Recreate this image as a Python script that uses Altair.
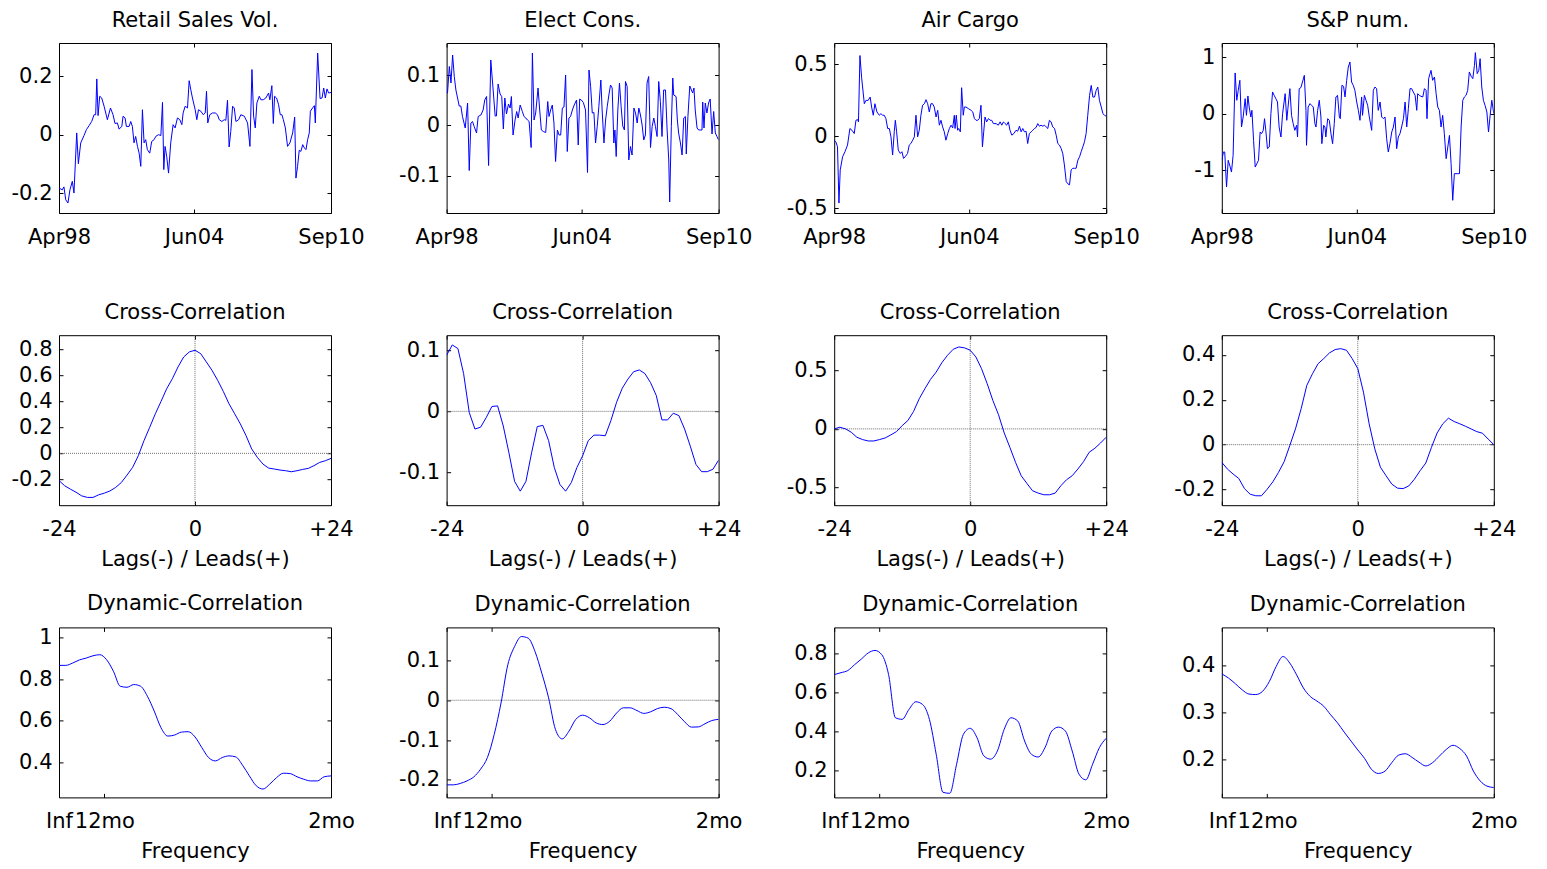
import altair as alt
import pandas as pd

FONT = "DejaVu Sans"
FS = 21
BLUE = "#0000ff"
W, H = 272, 170

# ---------------- Row 1 : time series (month index 0 = Apr98 ... 149 = Sep10)
RETAIL_T = [0, 1.8, 2.7, 3.7, 4.9, 6.0, 7.3, 8.2, 9.7, 10.6, 11.9, 13.7, 15.0, 16.5, 17.9, 19.2, 20.1, 20.7, 21.4, 22.3,
            23.4, 24.7, 26.5, 28.2, 29.6, 30.7, 32.0, 32.9, 34.4, 35.1, 36.2, 36.9, 38.4, 39.3, 40.2, 41.1, 42.0, 43.0, 43.9, 44.8,
            45.7, 46.6, 47.5, 48.4, 49.7, 50.8, 52.1, 53.0, 54.5, 55.8, 56.7, 57.4, 58.1, 59.0, 60.0, 61.2, 62.5, 63.6, 64.9, 66.2,
            67.3, 68.0, 69.1, 70.4, 71.3, 72.2, 73.1, 74.6, 75.5, 76.4, 77.7, 79.0, 80.1, 80.8, 81.5, 82.6, 84.1, 85.6, 86.8, 87.8,
            89.2, 90.5, 91.4, 92.3, 93.2, 94.1, 95.1, 96.0, 96.9, 98.4, 99.6, 101.5, 103.3, 104.6, 105.7, 106.6, 107.5, 108.4, 109.7, 110.6,
            111.9, 113.3, 114.8, 115.5, 116.6, 117.4, 118.1, 119.2, 120.3, 121.2, 122.1, 122.9, 124.0, 125.2, 126.5, 128.0, 129.1, 129.8, 130.7, 131.6,
            132.5, 133.5, 134.4, 135.3, 136.2, 137.1, 137.7, 138.9, 139.9, 140.4, 141.7, 143.0, 144.1, 145.0, 145.9, 146.8, 147.7, 149.0]
RETAIL_V = [-0.182, -0.188, -0.178, -0.222, -0.233, -0.188, -0.159, -0.199, 0.006, -0.099, -0.028, -0.003, 0.017, 0.031, 0.045, 0.068, 0.068, 0.19, 0.065, 0.131,
            0.125, 0.097, 0.051, 0.091, 0.068, 0.038, 0.04, 0.019, 0.028, 0.063, 0.057, 0.028, 0.028, 0.045, 0.028, -0.028, -0.006, -0.04, -0.063, -0.108,
            0.085, -0.028, -0.017, -0.051, -0.063, -0.023, -0.017, -0.006, 0.0, -0.003, 0.11, -0.119, -0.04, -0.074, -0.131, -0.028, 0.034, 0.023, 0.057, 0.051,
            0.034, 0.074, 0.097, 0.091, 0.184, 0.153, 0.125, 0.085, 0.051, 0.085, 0.08, 0.068, 0.074, 0.148, 0.04, 0.068, 0.074, 0.074, 0.068, 0.051,
            0.045, 0.051, 0.049, 0.117, -0.042, 0.011, 0.097, 0.091, 0.045, 0.051, 0.068, 0.063, 0.04, -0.04, 0.222, 0.063, 0.023, 0.108, 0.131, 0.119,
            0.119, 0.125, 0.142, 0.119, 0.167, 0.038, 0.131, 0.125, 0.102, 0.068, 0.068, 0.051, 0.023, -0.04, -0.028, 0.006, 0.06, -0.148, -0.108, -0.053,
            -0.057, -0.034, -0.045, -0.051, -0.017, 0.006, 0.08, 0.091, 0.099, 0.04, 0.278, 0.123, 0.125, 0.159, 0.125, 0.156, 0.142, 0.144]

ELECT_T = [0, 0.5, 1.5, 2.4, 3.3, 4.2, 5.1, 6.0, 6.9, 7.8, 8.7, 10.2, 11.5, 12.4, 13.3, 14.2, 15.1, 16.4, 17.3, 18.8,
           20.0, 20.9, 21.9, 23.0, 24.2, 25.5, 26.6, 27.3, 28.2, 29.3, 30.2, 31.1, 31.9, 32.8, 33.9, 34.8, 35.5, 36.4, 37.5, 38.4,
           39.2, 40.3, 41.5, 42.4, 43.4, 44.3, 45.2, 46.3, 47.0, 47.9, 48.8, 50.1, 51.0, 51.9, 53.0, 54.3, 55.4, 56.1, 57.0, 57.9,
           58.8, 59.7, 60.7, 61.6, 62.5, 63.4, 64.3, 65.2, 66.1, 67.0, 67.9, 68.9, 69.9, 71.2, 72.1, 72.9, 73.8, 74.9, 76.1, 77.2,
           78.0, 78.9, 79.8, 80.7, 81.6, 82.5, 83.4, 84.5, 85.2, 86.2, 87.1, 88.0, 88.9, 89.8, 90.7, 91.6, 92.2, 92.9, 93.8, 94.7,
           95.6, 96.5, 97.4, 98.0, 98.9, 99.8, 100.7, 101.6, 102.6, 103.5, 104.4, 105.3, 106.2, 107.1, 108.0, 108.9, 109.8, 110.7, 111.7, 112.6,
           113.5, 114.4, 115.3, 116.2, 117.1, 118.0, 118.9, 119.9, 120.8, 121.7, 122.2, 123.1, 123.9, 124.4, 125.7, 126.4, 127.1, 128.1, 129.0, 129.9,
           130.8, 131.3, 132.2, 133.2, 134.1, 134.8, 135.5, 136.2, 137.2, 138.1, 139.0, 139.9, 140.3, 141.0, 141.7, 142.6, 143.5, 144.4, 145.4, 146.3,
           147.2, 148.1, 149.0]
ELECT_V = [0.065, 0.065, 0.118, 0.085, 0.141, 0.098, 0.071, 0.055, 0.039, 0.039, 0.018, -0.005, 0.045, -0.09, 0.005, 0.008, -0.002, -0.015, 0.018, 0.021,
           0.031, 0.051, 0.058, -0.08, 0.131, 0.071, 0.019, 0.019, 0.083, 0.063, 0.058, -0.007, 0.055, 0.023, 0.043, 0.035, 0.058, -0.019, 0.011, 0.028,
           0.015, 0.041, 0.028, 0.018, 0.015, 0.011, 0.008, -0.044, 0.145, 0.011, 0.025, 0.075, 0.031, -0.009, -0.012, -0.014, 0.048, 0.018, 0.031, 0.041,
           0.005, -0.072, -0.009, -0.019, -0.019, 0.035, 0.037, 0.101, -0.052, 0.015, 0.018, 0.031, 0.041, 0.051, -0.039, 0.053, 0.051, 0.046, 0.031, -0.094,
           0.111, 0.078, 0.025, 0.026, -0.035, -0.002, 0.038, 0.091, 0.031, -0.035, 0.011, 0.038, 0.061, 0.081, 0.075, -0.035, -0.009, -0.062, 0.031, 0.085,
           0.038, -0.001, -0.009, 0.088, 0.078, -0.069, -0.042, -0.059, 0.035, 0.025, 0.005, 0.035, 0.021, 0.001, -0.029, -0.019, 0.085, 0.098, -0.044, -0.002,
           0.015, -0.002, -0.022, 0.088, 0.048, -0.022, 0.071, 0.071, -0.009, -0.069, -0.153, -0.002, 0.095, 0.061, 0.058, 0.011, -0.015, -0.035, -0.059, 0.015,
           0.018, -0.057, 0.018, 0.079, 0.071, 0.065, 0.075, 0.031, -0.005, -0.009, -0.009, -0.009, 0.047, -0.005, 0.045, 0.025, 0.045, 0.053, -0.017, 0.028,
           -0.015, -0.022, -0.029]

AIR_T = [0, 0.9, 1.8, 2.6, 3.3, 4.6, 5.9, 7.3, 8.6, 9.7, 11.0, 11.9, 12.8, 13.3, 14.1, 15.0, 16.5, 17.4, 18.6, 19.7,
         20.5, 21.4, 22.3, 23.4, 24.7, 25.6, 26.5, 27.4, 28.3, 29.3, 30.2, 31.1, 32.0, 32.9, 33.5, 34.2, 35.1, 36.2, 37.1, 38.0,
         38.9, 40.2, 41.1, 42.0, 43.0, 43.9, 44.8, 45.7, 46.6, 47.5, 48.4, 49.4, 50.3, 51.2, 52.1, 53.0, 53.9, 54.8, 55.8, 56.7,
         57.6, 58.5, 59.4, 60.3, 61.2, 62.2, 63.1, 64.0, 64.9, 65.8, 66.2, 66.9, 67.6, 68.2, 69.1, 69.8, 70.7, 71.3, 72.2, 73.5,
         75.0, 75.9, 76.8, 77.7, 78.6, 79.5, 80.4, 81.2, 81.9, 82.6, 83.5, 84.5, 85.4, 86.3, 87.2, 88.7, 89.9, 90.9, 91.8, 92.7,
         93.6, 94.5, 95.4, 96.3, 97.3, 98.4, 99.6, 100.5, 101.5, 102.4, 103.3, 104.2, 105.1, 106.0, 106.9, 107.9, 108.8, 109.7, 110.6, 111.5,
         112.4, 113.3, 114.3, 115.2, 116.1, 117.0, 117.9, 118.8, 119.7, 120.7, 121.6, 122.5, 123.4, 124.3, 125.2, 126.1, 127.1, 128.0, 128.9, 129.8,
         130.7, 131.6, 132.5, 133.5, 134.4, 135.3, 136.2, 137.1, 138.0, 138.9, 139.9, 140.8, 141.7, 142.6, 143.5, 144.4, 145.3, 146.3, 147.2, 148.1,
         149.0]
AIR_V = [-0.028, -0.039, -0.074, -0.464, -0.234, -0.143, -0.108, -0.062, 0.053, 0.041, 0.018, 0.11, 0.115, 0.099, 0.559, 0.409, 0.225, 0.248, 0.248, 0.271,
         0.202, 0.145, 0.225, 0.168, 0.145, 0.156, 0.145, 0.145, 0.122, 0.053, 0.053, -0.005, -0.131, 0.03, 0.11, 0.03, -0.097, -0.12, -0.108, -0.154,
         -0.143, -0.12, -0.062, -0.051, -0.028, -0.005, 0.145, -0.005, 0.041, 0.145, 0.214, 0.225, 0.253, 0.225, 0.168, 0.225, 0.225, 0.202, 0.133, 0.179,
         0.076, 0.11, 0.064, 0.03, -0.028, 0.018, 0.053, 0.076, 0.057, 0.145, 0.053, 0.145, 0.041, 0.053, 0.03, 0.336, 0.145, 0.202, 0.202, 0.191,
         0.179, 0.168, 0.122, 0.11, 0.11, 0.122, 0.214, -0.074, 0.03, 0.133, 0.099, 0.122, 0.11, 0.11, 0.087, 0.087, 0.076, 0.099, 0.076, 0.099,
         0.087, 0.076, 0.099, 0.041, 0.007, 0.018, 0.041, 0.034, 0.069, 0.03, 0.053, 0.03, 0.034, -0.051, 0.018, 0.03, 0.041, 0.053, 0.06, 0.087,
         0.069, 0.076, 0.069, 0.076, 0.064, 0.053, 0.11, 0.099, 0.064, 0.053, 0.007, -0.051, -0.062, -0.085, -0.12, -0.2, -0.315, -0.331, -0.338, -0.234,
         -0.223, -0.223, -0.223, -0.166, -0.143, -0.108, -0.074, -0.039, 0.018, 0.145, 0.283, 0.352, 0.271, 0.271, 0.317, 0.34, 0.248, 0.202, 0.156, 0.145,
         0.138]

SP_T = [0, 0.9, 1.6, 2.6, 3.5, 4.6, 5.3, 6.2, 7.3, 8.2, 9.0, 9.9, 10.8, 11.7, 12.8, 13.5, 14.3, 15.0, 15.9, 16.5,
        17.4, 18.3, 19.2, 20.1, 21.0, 21.8, 22.7, 23.4, 24.1, 25.0, 26.0, 26.9, 27.8, 28.7, 29.6, 30.5, 31.4, 32.4, 33.3, 34.7,
        35.6, 36.2, 37.3, 38.2, 39.1, 40.0, 41.0, 41.5, 42.4, 43.3, 44.2, 45.2, 46.1, 46.4, 47.3, 48.3, 49.2, 50.1, 51.0, 51.6,
        52.5, 53.4, 54.3, 54.8, 55.8, 56.5, 57.0, 58.0, 58.9, 59.8, 60.7, 61.6, 62.5, 63.4, 64.4, 64.9, 65.8, 66.7, 67.5, 68.4,
        69.3, 70.2, 71.1, 72.0, 72.9, 73.9, 74.8, 75.7, 76.6, 77.1, 78.1, 79.0, 79.9, 80.8, 82.1, 83.0, 83.9, 84.8, 85.7, 86.7,
        87.6, 88.5, 89.4, 90.3, 91.2, 92.1, 93.1, 94.0, 94.9, 95.8, 96.7, 97.6, 98.5, 99.5, 100.4, 101.3, 102.2, 103.1, 104.0, 104.9,
        105.9, 106.8, 107.3, 108.2, 109.1, 110.1, 111.0, 111.9, 112.4, 113.3, 114.6, 115.5, 116.5, 117.4, 118.3, 119.2, 120.1, 121.0, 121.9, 122.9,
        123.8, 124.7, 125.6, 126.5, 127.4, 128.3, 129.3, 130.2, 131.1, 132.0, 132.9, 133.8, 134.7, 135.6, 136.6, 137.5, 138.4, 138.9, 139.9, 140.8,
        141.5, 142.4, 143.3, 144.2, 145.2, 146.1, 147.0, 147.9, 149.0]
SP_V = [-0.828, -0.68, -0.68, -1.302, -0.828, -0.947, -1.036, -0.74, 0.722, 0.237, 0.414, 0.592, -0.237, -0.059, 0.266, -0.03, 0.314, 0.118, -0.059, 0.059,
        -0.473, -0.947, -0.888, -0.828, -0.325, -0.355, -0.296, -0.089, -0.296, -0.621, -0.592, 0.0, 0.385, 0.325, 0.266, 0.207, -0.237, -0.414, 0.0, 0.355,
        -0.118, 0.089, 0.444, -0.03, -0.178, -0.296, -0.207, -0.414, 0.444, 0.462, 0.562, 0.68, 0.059, -0.562, 0.118, 0.178, 0.148, 0.118, -0.178, -0.237,
        0.059, 0.237, -0.059, -0.533, -0.207, -0.237, -0.414, -0.089, -0.118, -0.355, -0.533, -0.178, 0.296, 0.325, -0.059, -0.089, 0.503, 0.485, 0.296, 0.592,
        0.828, 0.917, 0.562, 0.503, 0.414, 0.207, 0.059, -0.118, 0.296, -0.03, 0.325, 0.237, 0.148, -0.059, -0.296, 0.414, 0.473, 0.444, 0.059, 0.207,
        -0.059, -0.089, -0.059, -0.444, -0.68, -0.533, -0.325, -0.237, -0.059, -0.621, -0.414, -0.355, -0.237, -0.089, 0.207, -0.237, 0.089, 0.444, 0.444, 0.385,
        0.325, 0.059, 0.355, 0.325, 0.308, 0.296, 0.444, 0.414, -0.089, 0.621, 0.769, 0.592, 0.651, 0.355, 0.118, 0.059, -0.237, -0.03, -0.355, -0.799,
        -0.592, -0.385, -0.888, -1.538, -1.065, -1.065, -1.065, -1.065, -0.237, 0.237, 0.296, 0.325, 0.414, 0.74, 0.663, 0.621, 0.858, 1.083, 0.71, 0.769,
        0.976, 0.473, 0.237, 0.148, 0.03, -0.325, -0.03, 0.237, 0.0]

# ---------------- Row 2 : cross-correlations at lags -24..+24
LAGS = list(range(-24, 25))
XC_RETAIL = [-0.21, -0.25, -0.276, -0.30, -0.328, -0.34, -0.34, -0.32, -0.307, -0.29,
             -0.263, -0.225, -0.168, -0.108, -0.018, 0.098, 0.2, 0.305, 0.4, 0.498,
             0.575, 0.666, 0.743, 0.782, 0.795, 0.769, 0.705, 0.64, 0.563, 0.477,
             0.382, 0.305, 0.227, 0.137, 0.034, -0.031, -0.083, -0.114, -0.121, -0.129,
             -0.134, -0.142, -0.134, -0.124, -0.116, -0.095, -0.07, -0.057, -0.039]
XC_ELECT = [0.092, 0.109, 0.103, 0.062, -0.002, -0.029, -0.026, -0.01, 0.008, 0.009,
            -0.024, -0.068, -0.115, -0.131, -0.115, -0.068, -0.025, -0.023, -0.048, -0.092,
            -0.12, -0.131, -0.117, -0.092, -0.073, -0.048, -0.039, -0.039, -0.04, -0.015,
            0.015, 0.038, 0.053, 0.065, 0.068, 0.062, 0.047, 0.026, -0.014, -0.014,
            -0.003, -0.007, -0.029, -0.057, -0.087, -0.099, -0.099, -0.095, -0.08]
XC_AIR = [0.0, 0.014, 0.0, -0.028, -0.071, -0.091, -0.103, -0.103, -0.091, -0.077,
          -0.051, -0.023, 0.028, 0.071, 0.148, 0.256, 0.342, 0.422, 0.484, 0.564,
          0.627, 0.678, 0.698, 0.69, 0.67, 0.613, 0.513, 0.385, 0.242, 0.12,
          -0.034, -0.157, -0.285, -0.399, -0.464, -0.527, -0.547, -0.561, -0.561, -0.547,
          -0.484, -0.433, -0.399, -0.342, -0.279, -0.199, -0.165, -0.12, -0.071]
XC_SP = [-0.079, -0.109, -0.131, -0.151, -0.196, -0.221, -0.228, -0.228, -0.199, -0.166,
         -0.124, -0.076, -0.004, 0.07, 0.16, 0.264, 0.316, 0.361, 0.384, 0.409,
         0.424, 0.428, 0.421, 0.384, 0.339, 0.234, 0.093, -0.019, -0.101, -0.139,
         -0.176, -0.194, -0.196, -0.184, -0.154, -0.116, -0.082, -0.012, 0.052, 0.093,
         0.118, 0.103, 0.093, 0.082, 0.07, 0.058, 0.051, 0.025, 0.0]

# ---------------- Row 3 : dynamic correlations, frequency in units of pi (0 = Inf, 1/6 = 12mo, 1 = 2mo)
FREQ = [i / 40 for i in range(41)]
DC_RETAIL = [0.866, 0.866, 0.877, 0.892, 0.901, 0.912, 0.917, 0.893, 0.838, 0.766,
             0.761, 0.774, 0.766, 0.718, 0.647, 0.567, 0.527, 0.532, 0.546, 0.548,
             0.523, 0.472, 0.424, 0.408, 0.424, 0.432, 0.427, 0.387, 0.336, 0.289,
             0.273, 0.297, 0.328, 0.349, 0.347, 0.332, 0.32, 0.312, 0.312, 0.332, 0.336]
DC_ELECT = [-0.2125, -0.2125, -0.209, -0.2025, -0.1925, -0.173, -0.144, -0.086, -0.007, 0.089,
            0.135, 0.16, 0.156, 0.1225, 0.068, 0.006, -0.073, -0.097, -0.0775, -0.048,
            -0.0375, -0.044, -0.057, -0.061, -0.0525, -0.032, -0.019, -0.019, -0.026, -0.033,
            -0.029, -0.021, -0.0175, -0.021, -0.036, -0.054, -0.0675, -0.067, -0.059, -0.051, -0.048]
DC_AIR = [0.693, 0.703, 0.714, 0.744, 0.773, 0.804, 0.817, 0.795, 0.693, 0.472,
          0.464, 0.515, 0.554, 0.54, 0.464, 0.285, 0.09, 0.085, 0.234, 0.387,
          0.418, 0.37, 0.277, 0.26, 0.302, 0.413, 0.472, 0.455, 0.353, 0.285,
          0.271, 0.319, 0.404, 0.424, 0.404, 0.302, 0.183, 0.154, 0.234, 0.319, 0.367]
DC_SP = [0.382, 0.373, 0.361, 0.348, 0.339, 0.338, 0.345, 0.366, 0.398, 0.419,
         0.405, 0.38, 0.352, 0.334, 0.324, 0.313, 0.295, 0.278, 0.258, 0.239,
         0.22, 0.202, 0.179, 0.17, 0.175, 0.193, 0.209, 0.212, 0.204, 0.194,
         0.186, 0.193, 0.207, 0.221, 0.23, 0.223, 0.207, 0.175, 0.154, 0.143, 0.14]

TITLES_TOP = ["Retail Sales Vol.", "Elect Cons.", "Air Cargo", "S&P num."]
TIME_TICKS = [0, 74, 149]
LAG_TICKS = [-24, 0, 24]
FREQ_TICKS = [0, 1 / 6, 1]

TIME_EXPR = "datum.value == 0 ? 'Apr98' : (datum.value == 74 ? 'Jun04' : 'Sep10')"
LAG_EXPR = "datum.value > 0 ? '+' + datum.value : (datum.value < 0 ? '-' + (-datum.value) : '0')"
FREQ_EXPR = "datum.value == 0 ? 'Inf' : (datum.value < 0.5 ? '12mo' : '2mo')"
Y_EXPR = "replace(datum.label, '\u2212', '-')"

ZERO = pd.DataFrame({"v": [0]})


def frame(xs, ys):
    return pd.DataFrame(list(zip(xs, ys)), columns=["x", "y"])


def panel(df, title, xdom, ydom, xvals, yvals, xexpr, xtitle=None,
          hzero=False, vzero=False, interp="linear"):
    xs = alt.Scale(domain=xdom, nice=False, zero=False)
    ys = alt.Scale(domain=ydom, nice=False, zero=False)
    xkw = dict(orient="bottom", values=xvals, labelExpr=xexpr, labelFlush=False,
               labelOverlap=False, labelBaseline="alphabetic", labelPadding=30,
               offset=-4, tickSize=4, domain=False, grid=False,
               minExtent=34, maxExtent=34)
    if xtitle:
        xkw.update(title=xtitle, titleBaseline="alphabetic", titlePadding=30)
    else:
        xkw.update(title=None)
    ykw = dict(orient="left", values=yvals, format="~g", labelExpr=Y_EXPR,
               labelPadding=7, offset=-4, tickSize=4, domain=False, grid=False,
               title=None, labelOverlap=False, labelFlush=False)
    layers = []
    rule_style = dict(color="#6e6e6e", strokeDash=[1, 1], strokeWidth=1)
    if hzero:
        layers.append(alt.Chart(ZERO).mark_rule(**rule_style).encode(
            y=alt.Y("v:Q", scale=ys, axis=None)))
    if vzero:
        layers.append(alt.Chart(ZERO).mark_rule(**rule_style).encode(
            x=alt.X("v:Q", scale=xs, axis=None)))
    line = alt.Chart(df).mark_line(color=BLUE, strokeWidth=1, clip=True,
                                   interpolate=interp).encode(
        x=alt.X("x:Q", scale=xs, axis=alt.Axis(**xkw)),
        y=alt.Y("y:Q", scale=ys, axis=alt.Axis(**ykw)),
    )
    mirror = alt.Chart(df).mark_line(opacity=0).encode(
        x=alt.X("x:Q", scale=xs, axis=alt.Axis(orient="top", values=xvals, labels=False,
                                              domain=False, grid=False, tickSize=4,
                                              offset=-4, title=None)),
        y=alt.Y("y:Q", scale=ys, axis=alt.Axis(orient="right", values=yvals, labels=False,
                                              domain=False, grid=False, tickSize=4,
                                              offset=-4, title=None)),
    )
    layers += [line, mirror]
    return alt.layer(*layers).resolve_axis(x="independent", y="independent").properties(
        width=W, height=H, title=alt.Title(title))


row1 = [
    panel(frame(RETAIL_T, RETAIL_V), TITLES_TOP[0], [0, 149], [-0.267, 0.3125], TIME_TICKS, [-0.2, 0, 0.2], TIME_EXPR),
    panel(frame(ELECT_T, ELECT_V), TITLES_TOP[1], [0, 149], [-0.175, 0.165], TIME_TICKS, [-0.1, 0, 0.1], TIME_EXPR),
    panel(frame(AIR_T, AIR_V), TITLES_TOP[2], [0, 149], [-0.533, 0.646], TIME_TICKS, [-0.5, 0, 0.5], TIME_EXPR),
    panel(frame(SP_T, SP_V), TITLES_TOP[3], [0, 149], [-1.763, 1.254], TIME_TICKS, [-1, 0, 1], TIME_EXPR),
]
LAGT = "Lags(-) / Leads(+)"
row2 = [
    panel(frame(LAGS, XC_RETAIL), "Cross-Correlation", [-24, 24], [-0.40, 0.911], LAG_TICKS,
          [-0.2, 0, 0.2, 0.4, 0.6, 0.8], LAG_EXPR, LAGT, True, True),
    panel(frame(LAGS, XC_ELECT), "Cross-Correlation", [-24, 24], [-0.154, 0.125], LAG_TICKS,
          [-0.1, 0, 0.1], LAG_EXPR, LAGT, True, True),
    panel(frame(LAGS, XC_AIR), "Cross-Correlation", [-24, 24], [-0.65, 0.798], LAG_TICKS,
          [-0.5, 0, 0.5], LAG_EXPR, LAGT, True, True),
    panel(frame(LAGS, XC_SP), "Cross-Correlation", [-24, 24], [-0.27, 0.488], LAG_TICKS,
          [-0.2, 0, 0.2, 0.4], LAG_EXPR, LAGT, True, True),
]
row3 = [
    panel(frame(FREQ, DC_RETAIL), "Dynamic-Correlation", [0, 1], [0.233, 1.048], FREQ_TICKS,
          [0.4, 0.6, 0.8, 1], FREQ_EXPR, "Frequency", interp="monotone"),
    panel(frame(FREQ, DC_ELECT), "Dynamic-Correlation", [0, 1], [-0.244, 0.183], FREQ_TICKS,
          [-0.2, -0.1, 0, 0.1], FREQ_EXPR, "Frequency", hzero=True, interp="monotone"),
    panel(frame(FREQ, DC_AIR), "Dynamic-Correlation", [0, 1], [0.064, 0.935], FREQ_TICKS,
          [0.2, 0.4, 0.6, 0.8], FREQ_EXPR, "Frequency", interp="monotone"),
    panel(frame(FREQ, DC_SP), "Dynamic-Correlation", [0, 1], [0.119, 0.481], FREQ_TICKS,
          [0.2, 0.3, 0.4], FREQ_EXPR, "Frequency", interp="monotone"),
]

chart = alt.concat(*(row1 + row2 + row3), columns=4,
                   spacing={"row": 122.2, "column": 115.6}, bounds="flush").properties(
    padding={"left": 2, "top": 1, "right": 5, "bottom": 0}
).configure(font=FONT).configure_axis(
    labelFont=FONT, labelFontSize=FS, titleFont=FONT, titleFontSize=FS,
    titleFontWeight="normal", labelColor="black", titleColor="black",
    tickColor="black", tickWidth=1, grid=False, domain=False,
).configure_title(
    font=FONT, fontSize=FS, fontWeight="normal", color="black", anchor="middle",
    frame="group", baseline="alphabetic", offset=12,
).configure_view(stroke="black", strokeWidth=1)

chart.save("out.html", embed_options={"renderer": "svg", "actions": False})
